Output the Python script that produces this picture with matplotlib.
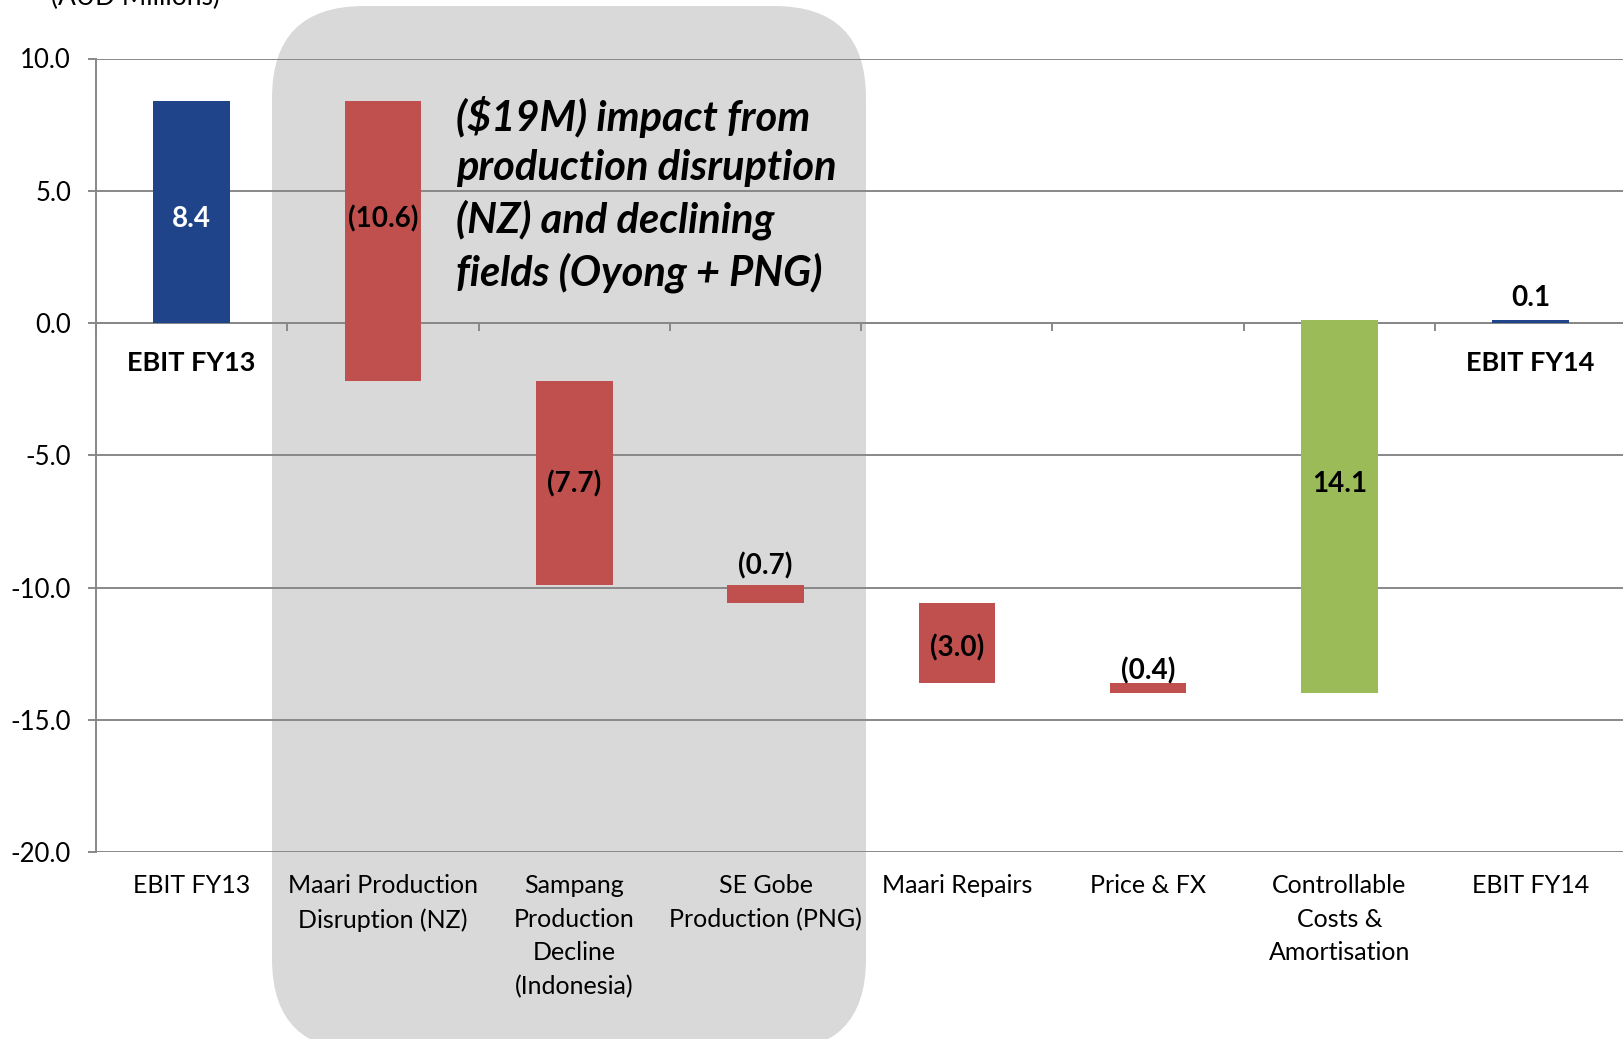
import matplotlib.pyplot as plt
from matplotlib.patches import FancyBboxPatch
import numpy as np

plt.rcParams["font.family"] = ["Lato", "DejaVu Sans"]

# DATA
categories = [
    "EBIT FY13",
    "Maari Production\nDisruption (NZ)",
    "Sampang\nProduction\nDecline\n(Indonesia)",
    "SE Gobe\nProduction (PNG)",
    "Maari Repairs",
    "Price & FX",
    "Controllable\nCosts &\nAmortisation",
    "EBIT FY14",
]
changes = [8.4, -10.6, -7.7, -0.7, -3.0, -0.4, 14.1, 0.1]
is_total = [True, False, False, False, False, False, False, True]
value_labels = ["8.4", "(10.6)", "(7.7)", "(0.7)", "(3.0)", "(0.4)", "14.1", "0.1"]
y_ticks = [10.0, 5.0, 0.0, -5.0, -10.0, -15.0, -20.0]

BLUE = "#1F4489"
RED = "#C0504D"
GREEN = "#9BBB59"
GRID = "#888888"

# waterfall bottoms / heights
bottoms, heights, colors = [], [], []
running = 0.0
for chg, tot in zip(changes, is_total):
    if tot:
        bottoms.append(0.0)
        heights.append(chg)
        colors.append(BLUE)
        running = chg
    else:
        bottoms.append(running)
        heights.append(chg)
        colors.append(RED if chg < 0 else GREEN)
        running += chg

W, H = 1624, 1039
fig = plt.figure(figsize=(W / 100, H / 100), dpi=100)

# grey highlight box behind the first group of drivers
box = FancyBboxPatch(
    (272 / W, -12 / H), (866 - 272) / W, (1033 + 12) / H,
    boxstyle="round,pad=0,rounding_size=%f" % (92 / W),
    mutation_aspect=W / H,
    transform=fig.transFigure, facecolor="#D9D9D9", edgecolor="none", zorder=-5,
)
fig.patches.append(box)

ax = fig.add_axes([96 / W, 1 - 852 / H, 8 * 191.3 / W, (852 - 58.5) / H])
ax.set_facecolor("none")

x = np.arange(len(categories)) + 0.5
ax.bar(x, heights, bottom=bottoms, width=0.4, color=colors, zorder=3)

ax.set_xlim(0, 8)
ax.set_ylim(-20, 10)
ax.set_yticks(y_ticks)
ax.set_yticklabels([f"{v:.1f}" for v in y_ticks], fontsize=18.5)
ax.yaxis.grid(True, color=GRID, linewidth=1.4, zorder=1)
ax.set_axisbelow(True)

for s in ["top", "right"]:
    ax.spines[s].set_visible(False)
ax.spines["left"].set_color(GRID)
ax.spines["left"].set_linewidth(1.4)
ax.spines["bottom"].set_position(("data", 0))
ax.spines["bottom"].set_color(GRID)
ax.spines["bottom"].set_linewidth(1.4)

ax.set_xticks(np.arange(0, 9))
ax.set_xticklabels([])
ax.tick_params(axis="x", length=6, width=1.4, color=GRID, direction="out")
ax.tick_params(axis="y", length=6, width=1.4, color=GRID, direction="out", pad=12)

# category labels under the plot
for xi, lab in zip(x, categories):
    ax.annotate(lab, (xi, -20), xytext=(0, -16), textcoords="offset points",
                ha="center", va="top", fontsize=18, linespacing=1.55)

# value labels (Excel-style placement)
label_y = [3.95, 3.95, -6.08, -9.2, -12.3, -13.15, -6.08, 0.95]
for i, (xi, yi, lab) in enumerate(zip(x, label_y, value_labels)):
    ax.text(xi, yi, lab, ha="center", va="center", fontsize=20, fontweight="bold",
            color="white" if i == 0 else "black", zorder=5)

ax.text(x[0], -1.52, "EBIT FY13", ha="center", va="center", fontsize=19.5, fontweight="bold")
ax.text(x[7], -1.52, "EBIT FY14", ha="center", va="center", fontsize=19.5, fontweight="bold")

fig.text(456 / W, 1 - 96 / H,
         "($19M) impact from\nproduction disruption\n(NZ) and declining\nfields (Oyong + PNG)",
         ha="left", va="top", fontsize=30, fontweight="bold", fontstyle="italic",
         linespacing=1.37)

fig.text(135 / W, 1 - 5 / H, "(AUD Millions)", ha="center", va="baseline", fontsize=19)

fig.savefig("out.png", dpi=100)
